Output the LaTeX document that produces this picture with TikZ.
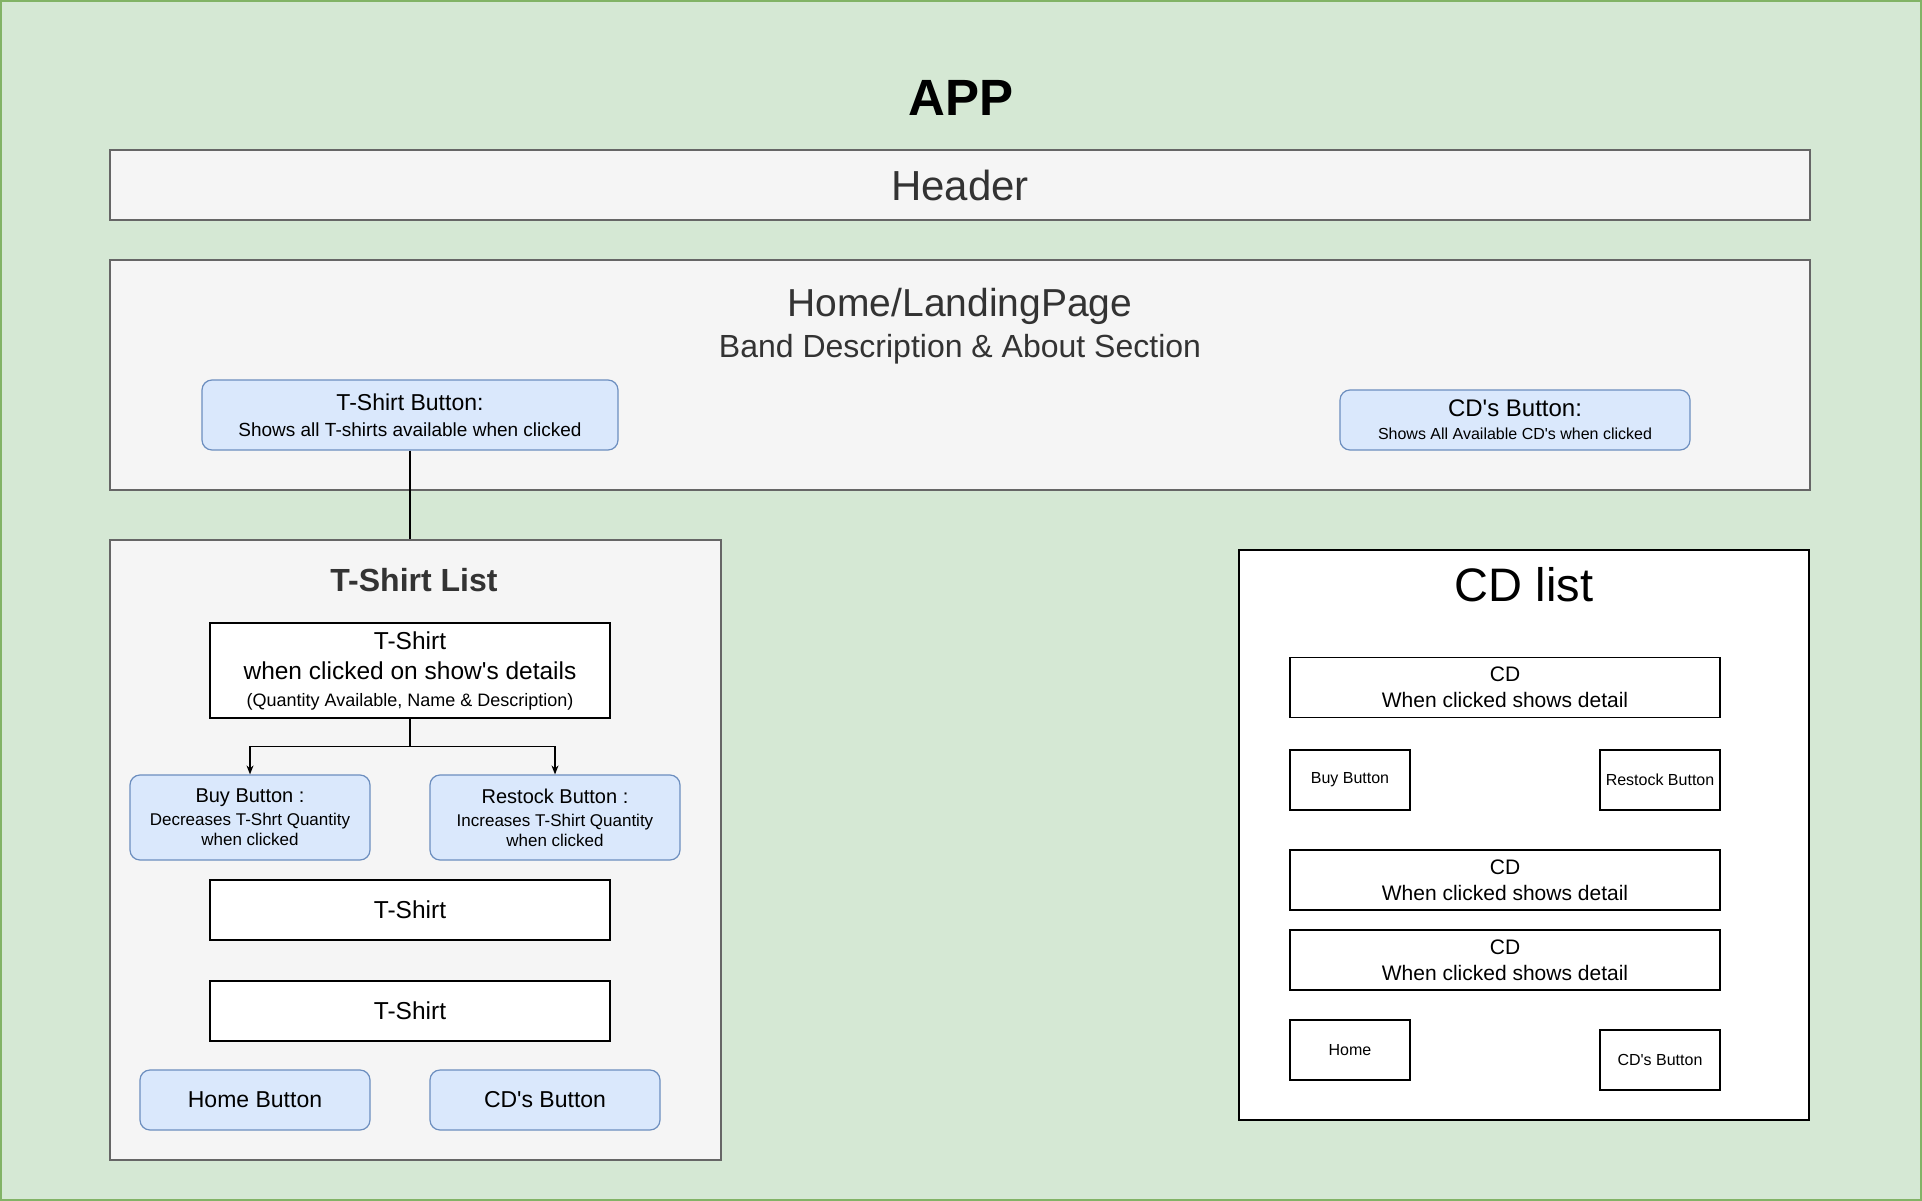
\documentclass[tikz,border=0pt]{standalone}
\usepackage{fontspec}
\setmainfont{Liberation Sans}
\usetikzlibrary{arrows.meta}
\definecolor{appfill}{HTML}{D5E8D4}
\definecolor{appline}{HTML}{82B366}
\definecolor{greyfill}{HTML}{F5F5F5}
\definecolor{greyline}{HTML}{666666}
\definecolor{btnfill}{HTML}{DAE8FC}
\definecolor{btnline}{HTML}{6C8EBF}
\definecolor{darktext}{HTML}{333333}
\newcommand{\fs}[2]{\fontsize{#1}{#2}\selectfont}
\newcommand{\q}{\textquotesingle}
\tikzset{
  greybox/.style={draw=greyline, fill=greyfill, line width=1.3pt, inner sep=0pt},
  btnbox/.style={draw=btnline, fill=btnfill, line width=1.2pt, rounded corners=10pt, inner sep=0pt, align=center},
  plainbox/.style={draw=black, fill=white, line width=1.3pt, inner sep=0pt, align=center},
  txt/.style={inner sep=0pt, align=center},
  conn/.style={draw=black, line width=1.2pt},
  arr/.style={conn, -{Stealth[length=9pt,width=7pt]}}
}
\begin{document}
\begin{tikzpicture}[x=1pt, y=-1pt]
% canvas
\useasboundingbox (0,0) rectangle (1922,1201);
\draw[fill=appfill, draw=appline, line width=1.6pt] (0.8,0.8) rectangle (1921.2,1200.2);

% title
\node[txt, font=\fs{51}{60}\bfseries] (app) at (961,98) {APP};

% header
\node[greybox, minimum width=1700pt, minimum height=70pt] (header) at (960,185) {};
\node[txt, text=darktext, font=\fs{42}{50}] (headertxt) at (header.center) {Header};

% home / landing page
\node[greybox, minimum width=1700pt, minimum height=230pt] (home) at (960,375) {};
\node[txt, text=darktext, font=\fs{39}{46}] (hometitle) at (960,306) {Home/LandingPage};
\node[txt, text=darktext, font=\fs{32}{38}] (homesub) at (960,349) {Band Description \& About Section};

\node[btnbox, minimum width=416pt, minimum height=70pt, font=\fs{19}{26}] (tbtn) at (410,415)
  {{\fs{23}{26}T-Shirt Button:}\\Shows all T-shirts available when clicked};
\node[btnbox, minimum width=350pt, minimum height=60pt, font=\fs{16}{23}] (cdbtn) at (1515,420)
  {{\fs{24}{26}CD\q s Button:}\\Shows All Available CD\q s when clicked};

% T-shirt list
\node[greybox, minimum width=611pt, minimum height=620pt] (tlist) at (415.5,850) {};
\node[txt, text=darktext, font=\fs{32}{38}\bfseries] (tlisttitle) at (414,580) {T-Shirt List};

\node[plainbox, minimum width=400pt, minimum height=95pt, font=\fs{24.5}{30}] (tdetail) at (410,670.5)
  {T-Shirt\\when clicked on show\q s details\\[-3pt]{\fs{18}{24}(Quantity Available, Name \& Description)}};

\node[btnbox, minimum width=240pt, minimum height=85pt, font=\fs{17}{20}] (buy) at (250,817.5)
  {{\fs{20}{23}Buy Button :}\\[3pt]Decreases T-Shrt Quantity\\when clicked};
\node[btnbox, minimum width=250pt, minimum height=85pt, font=\fs{17}{20}] (restock) at (555,817.5)
  {{\fs{20}{23}Restock Button :}\\[3pt]Increases T-Shirt Quantity\\when clicked};

\node[plainbox, minimum width=400pt, minimum height=60pt, font=\fs{24.5}{30}] (tshirt2) at (410,910) {T-Shirt};
\node[plainbox, minimum width=400pt, minimum height=60pt, font=\fs{24.5}{30}] (tshirt3) at (410,1011) {T-Shirt};

\node[btnbox, minimum width=230pt, minimum height=60pt, font=\fs{23}{28}] (homebtn) at (255,1100) {Home Button};
\node[btnbox, minimum width=230pt, minimum height=60pt, font=\fs{23}{28}] (cdsbtn) at (545,1100) {CD\q s Button};

% CD list
\node[plainbox, minimum width=570pt, minimum height=570pt] (cdlist) at (1524,835) {};
\node[txt, font=\fs{47}{54}] (cdlisttitle) at (1524,585) {CD list};

\tikzset{cdrow/.style={plainbox, minimum width=430pt, minimum height=60pt, font=\fs{21}{26}},
         cdsmall/.style={plainbox, minimum width=120pt, minimum height=60pt, font=\fs{16}{20}}}
\node[cdrow] (cd1) at (1505,687.5) {CD\\When clicked shows detail};
\node[cdsmall] (cdbuy) at (1350,780) {Buy Button};
\node[cdsmall] (cdrestock) at (1660,780) {Restock Button};
\node[cdrow] (cd2) at (1505,880) {CD\\When clicked shows detail};
\node[cdrow] (cd3) at (1505,960) {CD\\When clicked shows detail};
\node[cdsmall] (cdhome) at (1350,1050) {Home};
\node[cdsmall] (cdcds) at (1660,1060) {CD\q s Button};

% connectors
\draw[conn] (tbtn.south) -- (tbtn.south |- tlist.north);
\draw[arr] (tdetail.south) -- ++(0,28) -| (buy.north);
\draw[arr] (tdetail.south) -- ++(0,28) -| (restock.north);
\end{tikzpicture}
\end{document}
